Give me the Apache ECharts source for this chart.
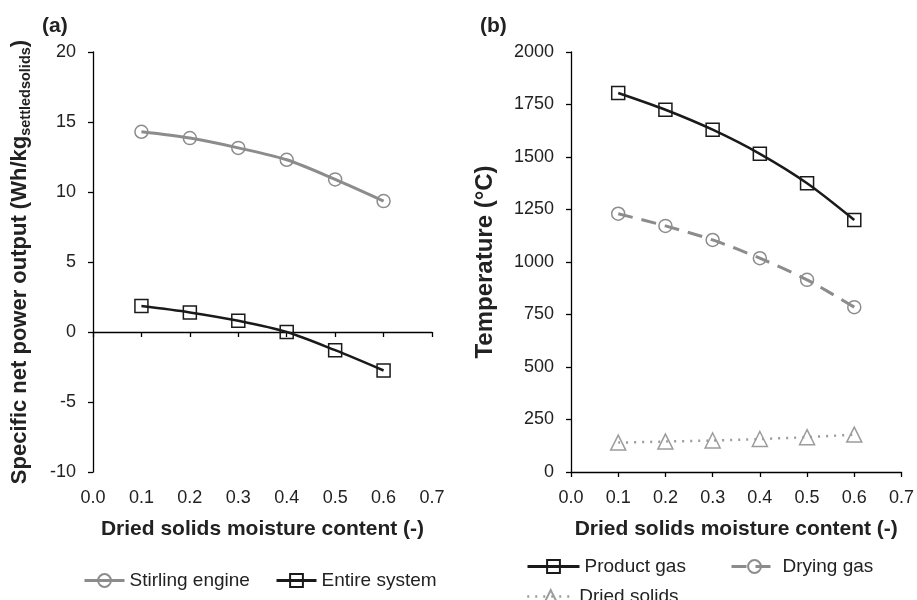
<!DOCTYPE html>
<html><head><meta charset="utf-8">
<script src="https://cdn.jsdelivr.net/npm/echarts@6/dist/echarts.min.js"></script>
<style>html,body{margin:0;padding:0;background:#fff}#c{width:917px;height:600px}</style>
</head><body><div id="c"></div>
<script>
const moisture = [0.1, 0.2, 0.3, 0.4, 0.5, 0.6];
const stirlingEngine = [14.3, 13.85, 13.15, 12.3, 10.9, 9.35];
const entireSystem = [1.85, 1.4, 0.8, 0.0, -1.3, -2.75];
const productGas = [1805, 1725, 1630, 1515, 1375, 1200];
const dryingGas = [1230, 1172, 1105, 1018, 915, 785];
const driedSolids = [140, 145, 150, 157, 166, 178];

const FONT = 'Liberation Sans, Arial, sans-serif';
const TXT = '#222';
const pair = (xs, ys) => xs.map((x, i) => [x, ys[i]]);
const black = '#1a1a1a', gray = '#8c8c8c', lightGray = '#9c9c9c';
const xFmt = v => v.toFixed(1);
const yFmt = v => String(v);

const yBase = {
  type: 'value', splitLine: {show: false},
  axisLine: {show: true, lineStyle: {color: '#000', width: 1.3}},
  axisTick: {show: true, length: 5, lineStyle: {color: '#000', width: 1.3}},
  axisLabel: {fontFamily: FONT, fontSize: 18, color: TXT, margin: 17, formatter: yFmt},
  nameLocation: 'middle'
};
const xLabel = {fontFamily: FONT, fontSize: 18, color: TXT, margin: 17, formatter: xFmt};
const xName = {fontFamily: FONT, fontSize: 21, fontWeight: 'bold', color: TXT};
const legText = {fontFamily: FONT, fontSize: 19, color: TXT};
const legBase = {itemHeight: 16, textStyle: legText, lineStyle: {width: 3}};

const chart = echarts.init(document.getElementById('c'));
chart.setOption({
  animation: false,
  title: [
    {text: '(a)', left: 37, top: 11, textStyle: {fontFamily: FONT, fontSize: 21, fontWeight: 'bold', color: TXT}},
    {text: '(b)', left: 475, top: 11, textStyle: {fontFamily: FONT, fontSize: 21, fontWeight: 'bold', color: TXT}}
  ],
  grid: [
    {left: 93, right: 485, top: 52, bottom: 128},
    {left: 571, right: 14, top: 52, bottom: 128}
  ],
  xAxis: [
    {gridIndex: 0, type: 'value', min: 0, max: 0.7, interval: 0.1, position: 'bottom',
      axisLine: {show: true, onZero: true, lineStyle: {color: '#000', width: 1.3}},
      axisTick: {show: true, length: 5, lineStyle: {color: '#000', width: 1.3}},
      axisLabel: {show: false}, splitLine: {show: false}},
    {gridIndex: 0, type: 'value', min: 0, max: 0.7, interval: 0.1, position: 'bottom',
      axisLine: {show: false, onZero: false}, axisTick: {show: false}, splitLine: {show: false},
      axisLabel: xLabel,
      name: 'Dried solids moisture content (-)', nameLocation: 'middle', nameGap: 47, nameTextStyle: xName},
    {gridIndex: 1, type: 'value', min: 0, max: 0.7, interval: 0.1, position: 'bottom',
      axisLine: {show: true, onZero: false, lineStyle: {color: '#000', width: 1.3}},
      axisTick: {show: true, length: 5, lineStyle: {color: '#000', width: 1.3}},
      splitLine: {show: false}, axisLabel: xLabel,
      name: 'Dried solids moisture content (-)', nameLocation: 'middle', nameGap: 47, nameTextStyle: xName}
  ],
  yAxis: [
    Object.assign({}, yBase, {gridIndex: 0, min: -10, max: 20, interval: 5,
      name: '{m|Specific net power output (Wh/kg}{s|settledsolids}{m|)}', nameGap: 60,
      nameTextStyle: {fontFamily: FONT, fontSize: 22, fontWeight: 'bold', color: TXT,
        rich: {m: {fontFamily: FONT, fontSize: 22, fontWeight: 'bold', color: TXT},
               s: {fontFamily: FONT, fontSize: 14.5, fontWeight: 'bold', color: TXT, padding: [12, 0, 0, 0]}}}}),
    Object.assign({}, yBase, {gridIndex: 1, min: 0, max: 2000, interval: 250,
      name: 'Temperature (°C)', nameGap: 74,
      nameTextStyle: {fontFamily: FONT, fontSize: 24, fontWeight: 'bold', color: TXT}})
  ],
  legend: [
    Object.assign({left: 78, top: 566, itemWidth: 40, data: ['Stirling engine']}, legBase),
    Object.assign({left: 270, top: 566, itemWidth: 40, data: ['Entire system']}, legBase),
    Object.assign({left: 521, top: 552, itemWidth: 52, data: ['Product gas']}, legBase),
    Object.assign({left: 725, top: 552, itemWidth: 46, data: ['Drying gas']}, legBase),
    Object.assign({left: 521, top: 582, itemWidth: 47, data: ['Dried solids']}, legBase, {lineStyle: {width: 2.5}})
  ],
  series: [
    {name: 'Stirling engine', type: 'line', xAxisIndex: 0, yAxisIndex: 0, smooth: 0.3,
      data: pair(moisture, stirlingEngine), symbol: 'circle', symbolSize: 13,
      lineStyle: {color: gray, width: 3}, itemStyle: {color: 'rgba(255,255,255,0)', borderColor: gray, borderWidth: 1.5}},
    {name: 'Entire system', type: 'line', xAxisIndex: 0, yAxisIndex: 0, smooth: 0.3,
      data: pair(moisture, entireSystem), symbol: 'rect', symbolSize: 13,
      lineStyle: {color: black, width: 2.5}, itemStyle: {color: 'rgba(255,255,255,0)', borderColor: black, borderWidth: 1.5}},
    {name: 'Product gas', type: 'line', xAxisIndex: 2, yAxisIndex: 1, smooth: 0.3,
      data: pair(moisture, productGas), symbol: 'rect', symbolSize: 13,
      lineStyle: {color: black, width: 2.5}, itemStyle: {color: 'rgba(255,255,255,0)', borderColor: black, borderWidth: 1.5}},
    {name: 'Drying gas', type: 'line', xAxisIndex: 2, yAxisIndex: 1, smooth: 0.3,
      data: pair(moisture, dryingGas), symbol: 'circle', symbolSize: 13,
      lineStyle: {color: gray, width: 3, type: [15, 9]}, itemStyle: {color: 'rgba(255,255,255,0)', borderColor: gray, borderWidth: 1.5}},
    {name: 'Dried solids', type: 'line', xAxisIndex: 2, yAxisIndex: 1, smooth: 0.3,
      data: pair(moisture, driedSolids), symbol: 'triangle', symbolSize: 15,
      lineStyle: {color: lightGray, width: 2.5, type: [2, 6]}, itemStyle: {color: 'rgba(255,255,255,0)', borderColor: lightGray, borderWidth: 1.5}}
  ]
});
</script></body></html>
